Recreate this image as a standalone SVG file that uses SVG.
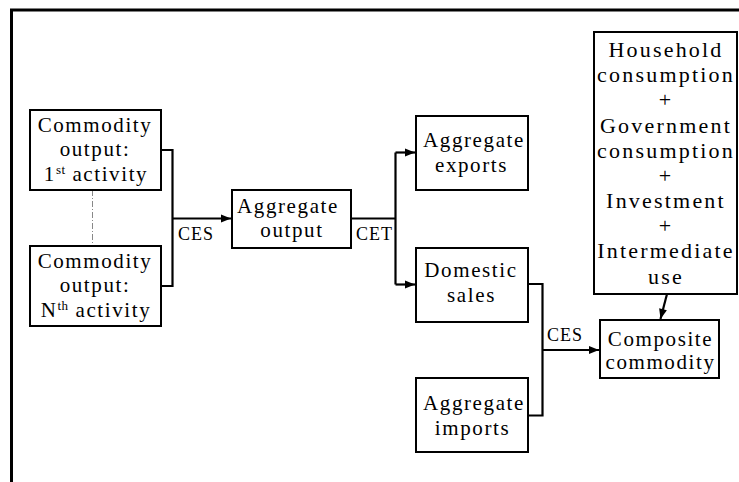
<svg xmlns="http://www.w3.org/2000/svg" width="739" height="482" viewBox="0 0 739 482">
<style>
.box{fill:#fff;stroke:#000;stroke-width:2}
.t{font-family:"Liberation Serif","Times New Roman",serif;font-size:21px;letter-spacing:1.6px;text-anchor:middle;fill:#000}
.h{font-size:22px;letter-spacing:2.2px}
.lb{font-family:"Liberation Serif","Times New Roman",serif;font-size:18px;letter-spacing:1px;fill:#000}
.c{fill:none;stroke:#000;stroke-width:2.2}
.sup{font-size:13px;letter-spacing:0.5px}
</style>
<defs>
<marker id="ah" markerUnits="userSpaceOnUse" markerWidth="12" markerHeight="12" viewBox="0 0 12 12" refX="11" refY="6" orient="auto">
<path d="M1,2 L11,6 L1,10 Z" fill="#000"/>
</marker>
</defs>
<rect width="739" height="482" fill="#fff"/>
<g id="frame">
<path d="M11.5,482 L11.5,10 L739,10" fill="none" stroke="#000" stroke-width="3"/>
</g>
<g id="connectors">
<line x1="92.5" y1="190" x2="92.5" y2="246" stroke="#888" stroke-width="1" stroke-dasharray="6 2 1 2"/>
<path class="c" d="M161,150 H172.5 V286 H161"/>
<path class="c" d="M172.5,218.5 H231" marker-end="url(#ah)"/>
<path class="c" d="M351,218.5 H395.5"/>
<path class="c" d="M395.5,152.5 V284.5"/>
<path class="c" d="M395.5,152.5 H415" marker-end="url(#ah)"/>
<path class="c" d="M395.5,284.5 H415" marker-end="url(#ah)"/>
<path class="c" d="M528,284 H542.5 V415.5 H528"/>
<path class="c" d="M542.5,350 H599" marker-end="url(#ah)"/>
<path class="c" d="M667,294 L660.5,319" marker-end="url(#ah)"/>
<text class="lb" x="178" y="240">CES</text>
<text class="lb" x="356" y="240">CET</text>
<text class="lb" x="547" y="341">CES</text>
</g>
<g id="n1">
<rect class="box" x="30" y="110" width="131" height="80"/>
<text class="t" x="95" y="132">Commodity</text>
<text class="t" x="95" y="156">output:</text>
<text class="t" x="96" y="181">1<tspan class="sup" dy="-7">st</tspan><tspan dy="7"> activity</tspan></text>
</g>
<g id="n2">
<rect class="box" x="30" y="246" width="131" height="80"/>
<text class="t" x="95" y="268">Commodity</text>
<text class="t" x="95" y="292">output:</text>
<text class="t" x="96" y="317">N<tspan class="sup" dy="-7">th</tspan><tspan dy="7"> activity</tspan></text>
</g>
<g id="n3">
<rect class="box" x="232" y="190" width="119" height="58"/>
<text class="t" x="288" y="213">Aggregate</text>
<text class="t" x="292" y="237">output</text>
</g>
<g id="n4">
<rect class="box" x="416" y="116" width="112" height="74"/>
<text class="t" x="474" y="147">Aggregate</text>
<text class="t" x="471.5" y="172">exports</text>
</g>
<g id="n5">
<rect class="box" x="416" y="248" width="112" height="74"/>
<text class="t" x="471" y="277">Domestic</text>
<text class="t" x="471.5" y="302">sales</text>
</g>
<g id="n6">
<rect class="box" x="416" y="378" width="112" height="74"/>
<text class="t" x="474" y="410">Aggregate</text>
<text class="t" x="472.5" y="435">imports</text>
</g>
<g id="n7">
<rect class="box" x="600" y="320" width="119" height="58"/>
<text class="t" x="660.5" y="346">Composite</text>
<text class="t" x="660.5" y="369">commodity</text>
</g>
<g id="n8">
<rect class="box" x="594" y="32" width="143" height="262"/>
<text class="t h" x="666" y="57">Household</text>
<text class="t h" x="666" y="82">consumption</text>
<text class="t h" x="666" y="107">+</text>
<text class="t h" x="666" y="133">Government</text>
<text class="t h" x="666" y="158">consumption</text>
<text class="t h" x="666" y="183">+</text>
<text class="t h" x="666" y="208">Investment</text>
<text class="t h" x="666" y="233">+</text>
<text class="t h" x="666" y="258">Intermediate</text>
<text class="t h" x="666" y="284">use</text>
</g>
</svg>
